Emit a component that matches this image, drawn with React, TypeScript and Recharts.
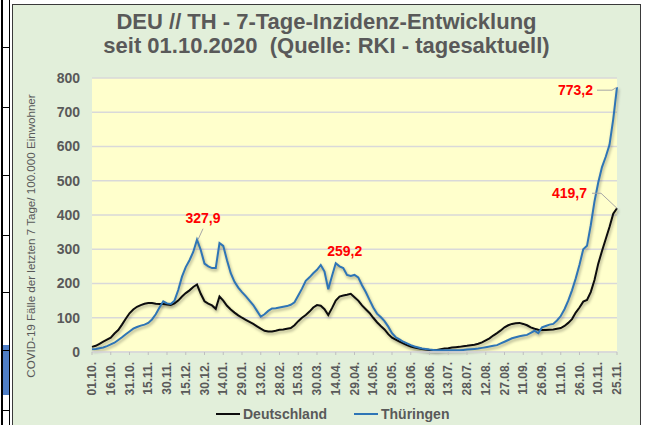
import React from "react";
import { CartesianGrid, Line, LineChart, XAxis, YAxis } from "recharts";

// day offsets from 01.10.2020, sampled every 3 days
const days = Array.from({ length: 141 }, (_, i) => i * 3);

const deutschland = [
  15, 18, 24, 30, 36, 42, 54, 64, 80, 97, 113, 124, 132, 137, 141, 143, 143, 141, 140, 140,
  139, 137, 142, 150, 162, 172, 180, 190, 197, 170, 148, 141, 136, 126, 162, 150, 135, 124, 115, 107,
  100, 94, 88, 82, 75, 68, 62, 60, 60, 62, 65, 66, 68, 70, 78, 90, 100, 108, 118, 130,
  137, 135, 125, 108, 128, 150, 162, 165, 167, 170, 160, 150, 136, 125, 114, 100, 87, 76, 66, 52,
  42, 36, 30, 25, 20, 16, 13, 11, 9, 7, 6, 6, 6, 8, 10, 11, 13, 14, 15, 17,
  18, 20, 21, 24, 28, 34, 40, 48, 55, 63, 72, 78, 82, 84, 85, 82, 78, 72, 68, 65,
  64, 64, 65, 66, 68, 70, 76, 85, 96, 115, 130, 147, 152, 175, 210, 258, 295, 330, 365, 404,
  419.7,
];

const thueringen = [
  8, 9, 11, 13, 17, 22, 27, 35, 43, 52, 60, 68, 73, 77, 80, 85, 95, 110, 130, 148,
  142, 140, 150, 181, 220, 248, 268, 292, 327.9, 298, 258, 250, 245, 245, 318, 310, 268, 230, 205, 188,
  175, 163, 150, 137, 120, 103, 110, 120, 127, 128, 130, 132, 134, 138, 145, 165, 185, 208, 218, 230,
  240, 254, 235, 183, 222, 259.2, 250, 245, 225, 222, 225, 218, 195, 175, 152, 130, 112, 102, 90, 74,
  55, 43, 37, 30, 25, 20, 16, 13, 10, 9, 7, 6, 5, 5, 5, 5, 5, 5, 5, 6,
  7, 8, 9, 10, 12, 14, 16, 18, 20, 25, 30, 35, 40, 43, 46, 48, 50, 56, 62, 55,
  72, 76, 80, 82, 92, 105, 125, 150, 180, 215, 255, 300, 310, 370, 440, 495, 540, 570, 605, 680,
  773.2,
];

const tickLabels = [
  "01.10.", "16.10.", "31.10.", "15.11.", "30.11.", "15.12.", "30.12.", "14.01.", "29.01.", "13.02.",
  "28.02.", "15.03.", "30.03.", "14.04.", "29.04.", "14.05.", "29.05.", "13.06.", "28.06.", "13.07.",
  "28.07.", "12.08.", "27.08.", "11.09.", "26.09.", "11.10.", "26.10.", "10.11.", "25.11.",
];
const tickDays = tickLabels.map((_, i) => i * 15);
const yTicks = [0, 100, 200, 300, 400, 500, 600, 700, 800];

const data = days.map((d, i) => ({ day: d, de: deutschland[i], th: thueringen[i] }));

const GREY = "#595959";
const FONT = "'Liberation Sans', Arial, sans-serif";

const fmt = (v: number) => v.toFixed(1).replace(".", ",");

const XTick = ({ x, y, payload }: any) => (
  <text
    x={x}
    y={y}
    transform={`rotate(-90, ${x}, ${y})`}
    dx={-5}
    dy={4}
    textAnchor="end"
    fill={GREY}
    fontSize={12}
    fontWeight="bold"
    fontFamily={FONT}
  >
    {tickLabels[tickDays.indexOf(payload.value)]}
  </text>
);

const deLabel = ({ x, y, index, value }: any) => {
  if (index !== deutschland.length - 1) return null;
  return (
    <g key="de-last">
      <polyline points={`${x - 25},${y - 15} ${x - 16},${y - 15} ${x},${y}`} fill="none" stroke="#a6a6a6" strokeWidth={1} />
      <text x={x - 30} y={y - 10} textAnchor="end" fill="#ff0000" fontSize={14} fontWeight="bold" fontFamily={FONT}>
        {fmt(value)}
      </text>
    </g>
  );
};

const thLabel = ({ x, y, index, value }: any) => {
  if (index === 28) {
    return (
      <g key="th-a">
        <line x1={x + 6} y1={y - 11} x2={x + 1} y2={y} stroke="#a6a6a6" strokeWidth={1} />
        <text x={x + 6} y={y - 17} textAnchor="middle" fill="#ff0000" fontSize={14} fontWeight="bold" fontFamily={FONT}>
          {fmt(value)}
        </text>
      </g>
    );
  }
  if (index === 65) {
    return (
      <text key="th-b" x={x + 9} y={y - 7} textAnchor="middle" fill="#ff0000" fontSize={14} fontWeight="bold" fontFamily={FONT}>
        {fmt(value)}
      </text>
    );
  }
  if (index === thueringen.length - 1) {
    return (
      <g key="th-c">
        <polyline points={`${x - 20},${y + 3} ${x - 5},${y + 3} ${x},${y}`} fill="none" stroke="#a6a6a6" strokeWidth={1} />
        <text x={x - 24} y={y + 8} textAnchor="end" fill="#ff0000" fontSize={14} fontWeight="bold" fontFamily={FONT}>
          {fmt(value)}
        </text>
      </g>
    );
  }
  return null;
};

export default function App() {
  const sideTicks = [47, 107, 175, 235, 292, 350, 410];
  return (
    <div style={{ position: "absolute", left: 0, top: 0, width: 646, height: 425, background: "#fff", overflow: "hidden", fontFamily: FONT }}>
      <style>{`.shadowed .recharts-line-curve { filter: drop-shadow(1px 2px 1.5px rgba(0,0,0,0.35)); }`}</style>
      {/* edge of the neighbouring frame */}
      <div style={{ position: "absolute", left: 1, top: 0, width: 2, height: 425, background: "#000" }} />
      <div style={{ position: "absolute", left: 9, top: 0, width: 1, height: 425, background: "#000" }} />
      <div style={{ position: "absolute", left: 3, top: 345, width: 6, height: 50, background: "#4f7fc8" }} />
      {sideTicks.map((t) => (
        <div key={t} style={{ position: "absolute", left: 1, top: t, width: 9, height: 1, background: "#000" }} />
      ))}
      <div
        style={{
          position: "absolute",
          left: 12,
          top: 4,
          width: 627,
          height: 430,
          background: "#e2efda",
          border: "1px solid #3a3a3a",
        }}
      />
      <div style={{ position: "absolute", left: 12, top: 10, width: 629, textAlign: "center", color: GREY, fontSize: 22, fontWeight: "bold", lineHeight: "24px" }}>
        DEU // TH - 7-Tage-Inzidenz-Entwicklung
        <br />
        seit 01.10.2020&nbsp; (Quelle: RKI - tagesaktuell)
      </div>
      <div
        style={{
          position: "absolute",
          left: 30,
          top: 236,
          transform: "translate(-50%, -50%) rotate(-90deg)",
          whiteSpace: "nowrap",
          fontSize: 11.6,
          color: GREY,
        }}
      >
        COVID-19 Fälle der letzten 7 Tage/ 100.000 Einwohner
      </div>
      <div style={{ position: "absolute", left: 0, top: 0 }} className="shadowed">
        <LineChart width={646} height={425} data={data} margin={{ top: 78, right: 29, bottom: 28, left: 32 }}>
          <CartesianGrid horizontal vertical={false} stroke="#d9d9d9" strokeWidth={1.6} fill="#ffffcc" fillOpacity={1} />
          <XAxis
            type="number"
            dataKey="day"
            domain={[0, 420]}
            ticks={tickDays}
            interval={0}
            height={45}
            tick={<XTick />}
            tickSize={3}
            tickLine={{ stroke: "#bfbfbf" }}
            axisLine={{ stroke: "#d9d9d9", strokeWidth: 1.6 }}
          />
          <YAxis
            domain={[0, 800]}
            ticks={yTicks}
            width={60}
            axisLine={false}
            tickLine={false}
            tickSize={0}
            tickMargin={12}
            tick={{ fill: GREY, fontSize: 14, fontWeight: "bold", fontFamily: FONT }}
          />
          <Line
            type="linear"
            dataKey="de"
            stroke="#0d0d0d"
            strokeWidth={2}
            dot={false}
            isAnimationActive={false}
            label={deLabel}
          />
          <Line
            type="linear"
            dataKey="th"
            stroke="#2e75b6"
            strokeWidth={2}
            dot={false}
            isAnimationActive={false}
            label={thLabel}
          />
        </LineChart>
      </div>
      <div style={{ position: "absolute", top: 406, left: 216, display: "flex", alignItems: "center", color: GREY, fontSize: 14, fontWeight: "bold" }}>
        <span style={{ display: "inline-block", width: 24, height: 2, background: "#0d0d0d", marginRight: 3 }} />
        <span>Deutschland</span>
        <span style={{ display: "inline-block", width: 24, height: 2, background: "#2e75b6", marginLeft: 27, marginRight: 3 }} />
        <span>Thüringen</span>
      </div>
    </div>
  );
}
